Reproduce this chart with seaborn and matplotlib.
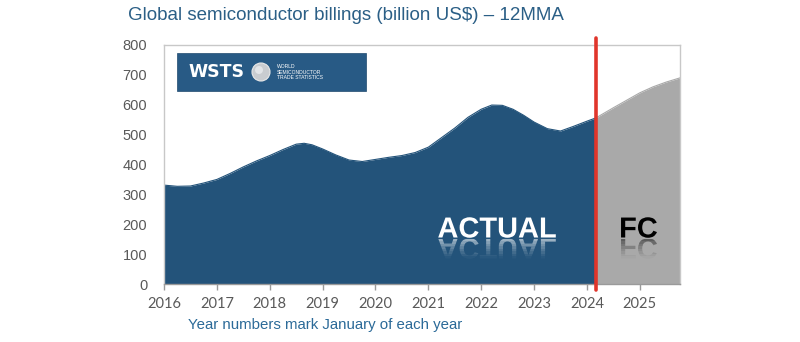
import numpy as np
import pandas as pd
import matplotlib
matplotlib.use("Agg")
import matplotlib.pyplot as plt
import matplotlib.transforms as mtransforms
from matplotlib.textpath import TextPath
from matplotlib.patches import PathPatch, Rectangle, Circle
from matplotlib.font_manager import FontProperties
import seaborn as sns

# 12-month moving average of global semiconductor billings (billion US$)
actual_years = [2016.0, 2016.25, 2016.5, 2016.75, 2017.0, 2017.25, 2017.5, 2017.75,
                2018.0, 2018.25, 2018.5, 2018.65, 2018.8, 2019.0, 2019.25, 2019.5,
                2019.75, 2020.0, 2020.25, 2020.5, 2020.75, 2021.0, 2021.25, 2021.5,
                2021.75, 2022.0, 2022.2, 2022.4, 2022.6, 2022.8, 2023.0, 2023.25,
                2023.5, 2023.75, 2024.0, 2024.17]
actual_values = [331, 327, 328, 338, 350, 370, 392, 412,
                 430, 450, 468, 471, 466, 452, 432, 415,
                 410, 417, 424, 430, 440, 458, 490, 522,
                 558, 585, 599, 598, 585, 565, 542, 520,
                 512, 528, 545, 556]

forecast_years = [2024.17, 2024.5, 2024.75, 2025.0, 2025.25, 2025.5, 2025.76]
forecast_values = [556, 590, 615, 640, 660, 676, 690]

year_ticks = list(range(2016, 2026))
value_ticks = list(range(0, 900, 100))
cutoff_year = 2024.17

BLUE = "#23537a"
GREY = "#a9a9a9"
TEXT_GREY = "#595959"
TITLE_BLUE = "#2b5f86"

sns.set_theme(style="white")
plt.rcParams["font.family"] = ["Liberation Sans", "DejaVu Sans"]

fig = plt.figure(figsize=(8.0, 3.42), dpi=100)
ax = fig.add_axes([164 / 800, 1 - 284 / 342, 516 / 800, 239 / 342])

df_a = pd.DataFrame({"year": actual_years, "value": actual_values})
df_f = pd.DataFrame({"year": forecast_years, "value": forecast_values})

sns.lineplot(data=df_a, x="year", y="value", ax=ax, color=BLUE, linewidth=0.8)
sns.lineplot(data=df_f, x="year", y="value", ax=ax, color=GREY, linewidth=0.8)
ax.fill_between(df_a["year"], df_a["value"], color=BLUE, linewidth=0)
ax.fill_between(df_f["year"], df_f["value"], color=GREY, linewidth=0)

ax.set_xlim(2016, 2025.76)
ax.set_ylim(0, 800)
ax.set_xlabel("")
ax.set_ylabel("")
ax.set_xticks(year_ticks)
ax.set_xticklabels([str(y) for y in year_ticks], fontfamily="Lato",
                   fontsize=10.5, color=TEXT_GREY)
ax.set_yticks(value_ticks)
ax.set_yticklabels([str(v) for v in value_ticks], fontsize=10.5, color=TEXT_GREY)
ax.tick_params(axis="x", direction="out", length=4, width=1, color="#9a9a9a",
               pad=5, bottom=True)
ax.tick_params(axis="y", length=0, pad=12)
for side, sp in ax.spines.items():
    sp.set_color("#c8c8c8")
    sp.set_linewidth(1.0)
ax.spines["bottom"].set_color("#9a9a9a")

# cut-off between actual data and forecast
trans = mtransforms.blended_transform_factory(ax.transData, ax.transAxes)
ax.plot([cutoff_year, cutoff_year], [-0.025, 1.03], transform=trans,
        color="#e0352b", linewidth=2.6, clip_on=False, zorder=6)

# titles
fig.text(128 / 800, 1 - 15 / 342,
         "Global semiconductor billings (billion US$) \u2013 12MMA",
         fontsize=13.5, color=TITLE_BLUE, va="center", ha="left")
fig.text(188 / 800, 1 - 325 / 342, "Year numbers mark January of each year",
         fontsize=10.8, color="#2b6a98", va="center", ha="left")

# big labels with a fading reflection underneath
bold = FontProperties(family="Liberation Sans", weight="bold")


def reflected_label(text, cx, baseline_px, size, color, refl_alpha):
    path = TextPath((0, 0), text, size=size, prop=bold)
    ext = path.get_extents()
    x0 = cx - (ext.x0 + ext.x1) / 2
    y0 = 342 - baseline_px
    main = PathPatch(path, transform=mtransforms.Affine2D().translate(x0, y0),
                     facecolor=color, edgecolor="none", zorder=8)
    fig.add_artist(main)
    height = ext.y1
    n = 8
    for i in range(n):
        band = Rectangle((x0 + ext.x0 - 4, y0 - 1 - (i + 1) * height / n),
                         ext.width + 8, height / n,
                         transform=mtransforms.IdentityTransform())
        refl = PathPatch(path,
                         transform=mtransforms.Affine2D().scale(1, -1).translate(x0, y0 - 1),
                         facecolor=color, edgecolor="none", zorder=8,
                         alpha=refl_alpha * (1 - i / n) ** 1.4)
        fig.add_artist(refl)
        refl.set_clip_path(band)


reflected_label("ACTUAL", 497, 237.5, 29, "white", 0.55)
reflected_label("FC", 639, 237.5, 29, "black", 0.45)

# WSTS logo panel
fig.add_artist(Rectangle((177 / 800, 1 - 91 / 342), 189 / 800, 38 / 342,
                         transform=fig.transFigure, facecolor="#285a85",
                         edgecolor="#1f4a6e", linewidth=0.5, zorder=7))
fig.text(216 / 800, 1 - 72 / 342, "WSTS", fontsize=12.5, color="white",
         fontweight="bold", ha="center", va="center", zorder=8,
         fontfamily="DejaVu Sans", fontstretch="expanded")
fig.add_artist(Circle((261, 342 - 72), 9, transform=mtransforms.IdentityTransform(),
                      facecolor="#c9ccd0", edgecolor="#e8e8e8", linewidth=0.8, zorder=8))
fig.add_artist(Circle((259, 342 - 70), 4, transform=mtransforms.IdentityTransform(),
                      facecolor="#e3e5e8", edgecolor="none", zorder=8))
fig.text(277 / 800, 1 - 72 / 342, "WORLD\nSEMICONDUCTOR\nTRADE STATISTICS",
         fontsize=3.6, color="white", ha="left", va="center", linespacing=1.1,
         zorder=8)

fig.savefig("out.png", dpi=100)
